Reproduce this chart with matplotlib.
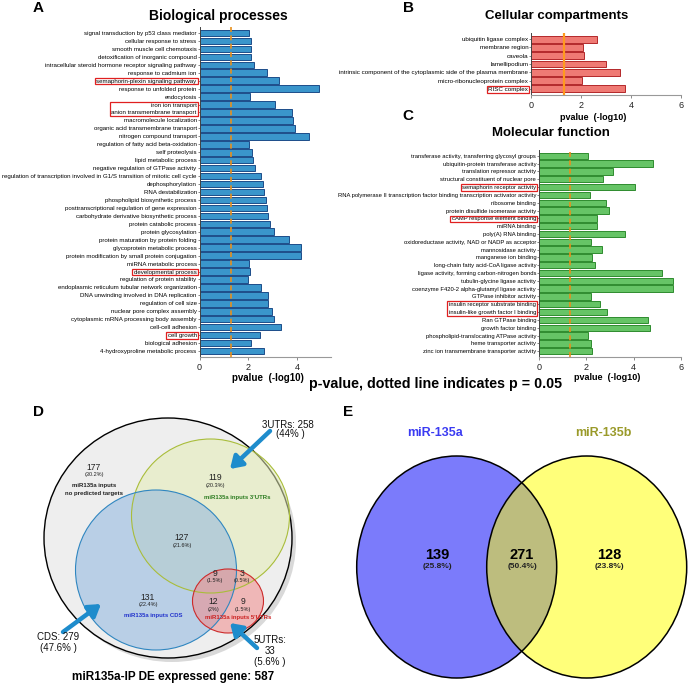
import matplotlib
matplotlib.use("Agg")
import matplotlib.pyplot as plt
from matplotlib.patches import Ellipse, Rectangle

plt.rcParams['font.family'] = ['Liberation Sans', 'DejaVu Sans']

# ---------------- data ----------------
bp_terms = [
    "signal transduction by p53 class mediator", "cellular response to stress",
    "smooth muscle cell chemotaxis", "detoxification of inorganic compound",
    "intracellular steroid hormone receptor signaling pathway", "response to cadmium ion",
    "semaphorin-plexin signaling pathway", "response to unfolded protein", "endocytosis",
    "iron ion transport", "anion transmembrane transport", "macromolecule localization",
    "organic acid transmembrane transport", "nitrogen compound transport",
    "regulation of fatty acid beta-oxidation", "self proteolysis", "lipid metabolic process",
    "negative regulation of GTPase activity",
    "regulation of transcription involved in G1/S transition of mitotic cell cycle",
    "dephosphorylation", "RNA destabilization", "phospholipid biosynthetic process",
    "posttranscriptional regulation of gene expression",
    "carbohydrate derivative biosynthetic process", "protein catabolic process",
    "protein glycosylation", "protein maturation by protein folding",
    "glycoprotein metabolic process", "protein modification by small protein conjugation",
    "miRNA metabolic process", "developmental process", "regulation of protein stability",
    "endoplasmic reticulum tubular network organization",
    "DNA unwinding involved in DNA replication", "regulation of cell size",
    "nuclear pore complex assembly", "cytoplasmic mRNA processing body assembly",
    "cell-cell adhesion", "cell growth", "biological adhesion",
    "4-hydroxyproline metabolic process"]
bp_values = [2.03, 2.13, 2.13, 2.13, 2.22, 2.78, 3.26, 4.89, 2.06, 3.09, 3.80, 3.83,
             3.91, 4.48, 2.03, 2.14, 2.20, 2.27, 2.52, 2.60, 2.65, 2.75, 2.76, 2.81,
             2.88, 3.06, 3.69, 4.16, 4.18, 2.03, 2.09, 2.00, 2.52, 2.80, 2.81, 2.98,
             3.07, 3.36, 2.48, 2.10, 2.65]
bp_boxes = [["semaphorin-plexin signaling pathway"],
            ["iron ion transport", "anion transmembrane transport"],
            ["developmental process"], ["cell growth"]]

cc_terms = ["ubiquitin ligase complex", "membrane region", "caveola", "lamellipodium",
            "intrinsic component of the cytoplasmic side of the plasma membrane",
            "micro-ribonucleoprotein complex", "RISC complex"]
cc_values = [2.64, 2.08, 2.10, 2.99, 3.57, 2.03, 3.74]
cc_boxes = [["RISC complex"]]

mf_terms = [
    "transferase activity, transferring glycosyl groups",
    "ubiquitin-protein transferase activity", "translation repressor activity",
    "structural constituent of nuclear pore", "semaphorin receptor activity",
    "RNA polymerase II transcription factor binding transcription activator activity",
    "ribosome binding", "protein disulfide isomerase activity",
    "cAMP response element binding", "miRNA binding", "poly(A) RNA binding",
    "oxidoreductase activity, NAD or NADP as acceptor", "mannosidase activity",
    "manganese ion binding", "long-chain fatty acid-CoA ligase activity",
    "ligase activity, forming carbon-nitrogen bonds", "tubulin-glycine ligase activity",
    "coenzyme F420-2 alpha-glutamyl ligase activity", "GTPase inhibitor activity",
    "insulin receptor substrate binding", "insulin-like growth factor I binding",
    "Ran GTPase binding", "growth factor binding",
    "phospholipid-translocating ATPase activity", "heme transporter activity",
    "zinc ion transmembrane transporter activity"]
mf_values = [2.08, 4.80, 3.14, 2.72, 4.04, 2.14, 2.82, 2.94, 2.46, 2.46, 3.62, 2.20,
             2.66, 2.24, 2.36, 5.18, 5.65, 5.65, 2.18, 2.59, 2.86, 4.59, 4.69, 2.08,
             2.18, 2.25]
mf_boxes = [["semaphorin receptor activity"], ["cAMP response element binding"],
            ["insulin receptor substrate binding", "insulin-like growth factor I binding"]]

p_cut = 1.30  # -log10(0.05)

# Venn D
d_counts = {"none": "177", "utr3": "119", "cds_utr3": "127", "cds_utr3_utr5": "9",
            "utr3_utr5": "3", "cds": "131", "cds_utr5": "12", "utr5": "9"}
d_pcts = {"none": "(30.2%)", "utr3": "(20.3%)", "cds_utr3": "(21.6%)",
          "cds_utr3_utr5": "(1.5%)", "utr3_utr5": "(0.5%)", "cds": "(22.4%)",
          "cds_utr5": "(2%)", "utr5": "(1.5%)"}
# Venn E
e_labels = ["miR-135a", "miR-135b"]
e_counts = ["139", "271", "128"]
e_pcts = ["(25.8%)", "(50.4%)", "(23.8%)"]

W, H = 688, 687
fig = plt.figure(figsize=(W / 100, H / 100), dpi=100)


def px_axes(x0, x1, y0, y1):
    return fig.add_axes([x0 / W, 1 - y1 / H, (x1 - x0) / W, (y1 - y0) / H])


def bar_panel(ax, terms, vals, xmax, xticks, fc, ec, lc, ls, lw, fs):
    n = len(terms)
    ypos = list(range(n))
    ax.barh(ypos, vals, height=0.82, color=fc, edgecolor=ec, linewidth=0.7, zorder=2)
    ax.axvline(p_cut, color=lc, ls=ls, lw=lw, zorder=3)
    ax.set_ylim(n - 0.25, -0.75)
    ax.set_xlim(0, xmax)
    ax.set_yticks(ypos)
    ax.set_yticklabels(terms, fontsize=fs)
    ax.set_xticks(xticks)
    ax.tick_params(axis='y', length=1.5, width=0.5, pad=0.5, color='#555555')
    ax.tick_params(axis='x', length=2.5, width=0.6, pad=1.5, labelsize=6.5,
                   color='#777777', labelcolor='#222222')
    for s in ['top', 'right']:
        ax.spines[s].set_visible(False)
    ax.spines['left'].set_color('#444444')
    ax.spines['left'].set_linewidth(0.7)
    ax.spines['bottom'].set_color('#999999')
    ax.spines['bottom'].set_linewidth(0.8)
    ax.set_facecolor('none')


axA = px_axes(199.5, 331, 27, 357)
bar_panel(axA, bp_terms, bp_values, 5.4, [0, 2, 4], '#3a95cb', '#1d4d8a', '#e8901c',
          (0, (3, 2)), 1.2, 4.45)
axB = px_axes(531, 681, 33, 95)
bar_panel(axB, cc_terms, cc_values, 6, [0, 2, 4, 6], '#ef7a74', '#b3282a', '#ff9a1e',
          '-', 1.6, 4.5)
axC = px_axes(539, 681, 150, 357)
bar_panel(axC, mf_terms, mf_values, 6, [0, 2, 4, 6], '#66c466', '#2e8c2e', '#ea8f1c',
          (0, (3, 2)), 1.2, 4.25)

# overlay axes in pixel coordinates
ov = fig.add_axes([0, 0, 1, 1])
ov.set_xlim(0, W)
ov.set_ylim(H, 0)
ov.axis('off')
ov.set_zorder(-1)

bold = dict(fontweight='bold', ha='center', va='center')
# panel letters
for lab, x, y in [("A", 38, 8), ("B", 408, 8), ("C", 408, 116), ("D", 38, 412), ("E", 348, 412)]:
    ov.text(x, y, lab, fontsize=11, color='black', **bold)
# titles
ov.text(218, 16, "Biological processes", fontsize=10, **bold)
ov.text(557, 16, "Cellular compartments", fontsize=9.5, **bold)
ov.text(551, 133, "Molecular function", fontsize=9.5, **bold)
ov.text(268, 378, "pvalue  (-log10)", fontsize=7, **bold)
ov.text(593, 118, "pvalue  (-log10)", fontsize=6.5, **bold)
ov.text(607, 378, "pvalue  (-log10)", fontsize=6.5, **bold)
ov.text(436, 384, "p-value, dotted line indicates p = 0.05", fontsize=10.3, **bold)

# ---------- Panel D ----------
ov.add_patch(Ellipse((172, 542), 248, 240, facecolor='#d9d9d9', edgecolor='none', zorder=1))
ov.add_patch(Ellipse((168, 538), 248, 240, facecolor='#eeeeee', edgecolor='black', lw=1.0, zorder=2))
ov.add_patch(Ellipse((210.5, 516), 158, 154, facecolor='#e4edb4', edgecolor='none', alpha=0.55, zorder=3))
ov.add_patch(Ellipse((210.5, 516), 158, 154, facecolor='none', edgecolor='#a9bd3a', lw=0.8, zorder=6))
ov.add_patch(Ellipse((156, 570), 161, 160, facecolor='#8fb6e0', edgecolor='none', alpha=0.55, zorder=4))
ov.add_patch(Ellipse((156, 570), 161, 160, facecolor='none', edgecolor='#2f86c0', lw=0.8, zorder=6))
ov.add_patch(Ellipse((228, 601), 71, 64, facecolor='#f08a8a', edgecolor='none', alpha=0.55, zorder=5))
ov.add_patch(Ellipse((228, 601), 71, 64, facecolor='none', edgecolor='#cc2a2a', lw=0.8, zorder=6))

num = dict(ha='center', va='center', fontsize=6.2, color='#222222', zorder=8)
pct = dict(ha='center', va='center', fontsize=4.0, color='#222222', zorder=8)
d_pos = {"none": (94, 467), "utr3": (215, 478), "cds_utr3": (182, 538),
         "cds_utr3_utr5": (215, 573), "utr3_utr5": (242, 573), "cds": (148, 597),
         "cds_utr5": (213, 602), "utr5": (243, 602)}
for k, (x, y) in d_pos.items():
    ov.text(x, y, d_counts[k], **num)
    ov.text(x, y + 7.5, d_pcts[k], **pct)
small = dict(ha='center', va='center', fontsize=4.3, fontweight='bold', zorder=8)
ov.text(94, 486, "miR135a inputs", color='#222222', **small)
ov.text(94, 493, "no predicted targets", color='#222222', **small)
ov.text(237, 497, "miR135a inputs 3'UTRs", color='#2e7d22', **small)
ov.text(153, 616, "miR135a inputs CDS", color='#2233cc', **small)
ov.text(238, 617, "miR135a inputs 5'UTRs", color='#cc2222', **small)

arrow = dict(arrowstyle='-|>,head_width=0.45,head_length=0.7', lw=3.2, color='#1e8ccc',
             shrinkA=0, shrinkB=0)
ov.annotate('', xy=(230, 469), xytext=(270, 431), arrowprops=arrow, zorder=9)
ov.annotate('', xy=(101, 604), xytext=(63, 632), arrowprops=arrow, zorder=9)
ov.annotate('', xy=(230, 623), xytext=(257, 648), arrowprops=arrow, zorder=9)
lab = dict(ha='center', va='center', fontsize=7, color='#111111', zorder=9)
ov.text(288, 425, "3UTRs: 258", **lab)
ov.text(290, 434, "(44% )", **lab)
ov.text(58, 637, "CDS: 279", **lab)
ov.text(58, 648, "(47.6% )", **lab)
ov.text(270, 640, "5UTRs:", **lab)
ov.text(270, 651, "33", **lab)
ov.text(270, 662, "(5.6% )", **lab)
ov.text(173, 677, "miR135a-IP DE expressed gene: 587", fontsize=8.5, **bold)

# ---------- Panel E ----------
ov.add_patch(Ellipse((456.7, 567), 200, 222, facecolor='#7b7bfb', edgecolor='none', zorder=2))
ov.add_patch(Ellipse((586.7, 567), 200, 222, facecolor='#ffff7a', edgecolor='none', zorder=3))
clipE = Ellipse((456.7, 567), 200, 222, transform=ov.transData)
ov_overlap = Ellipse((586.7, 567), 200, 222, facecolor='#bdbd7e', edgecolor='none', zorder=4)
ov.add_patch(ov_overlap)
ov_overlap.set_clip_path(clipE)
for cx in (456.7, 586.7):
    ov.add_patch(Ellipse((cx, 567), 200, 222, facecolor='none', edgecolor='black', lw=1.1, zorder=5))
ov.text(435, 433, e_labels[0], fontsize=9, color='#3b3bf2', **bold)
ov.text(603, 433, e_labels[1], fontsize=9, color='#9a9a2a', **bold)
for x, c, p in zip([437, 522, 609], e_counts, e_pcts):
    ov.text(x, 555, c, fontsize=10.5, zorder=6, **bold)
    ov.text(x, 566, p, fontsize=6, color='#222222', zorder=6, **bold)

# ---------- red boxes around highlighted labels ----------
fig.canvas.draw()
renderer = fig.canvas.get_renderer()
inv = fig.transFigure.inverted()
for ax, terms, groups in [(axA, bp_terms, bp_boxes), (axB, cc_terms, cc_boxes),
                          (axC, mf_terms, mf_boxes)]:
    labels = ax.get_yticklabels()
    for grp in groups:
        bbs = [labels[terms.index(t)].get_window_extent(renderer) for t in grp]
        x0 = min(b.x0 for b in bbs) - 1.5
        x1 = max(b.x1 for b in bbs) + 1.0
        y0 = min(b.y0 for b in bbs) - 0.8
        y1 = max(b.y1 for b in bbs) + 0.8
        (fx0, fy0), (fx1, fy1) = inv.transform([(x0, y0), (x1, y1)])
        fig.add_artist(Rectangle((fx0, fy0), fx1 - fx0, fy1 - fy0, transform=fig.transFigure,
                                 facecolor='none', edgecolor='#e02020', lw=0.9))

fig.savefig("out.png", dpi=100)
